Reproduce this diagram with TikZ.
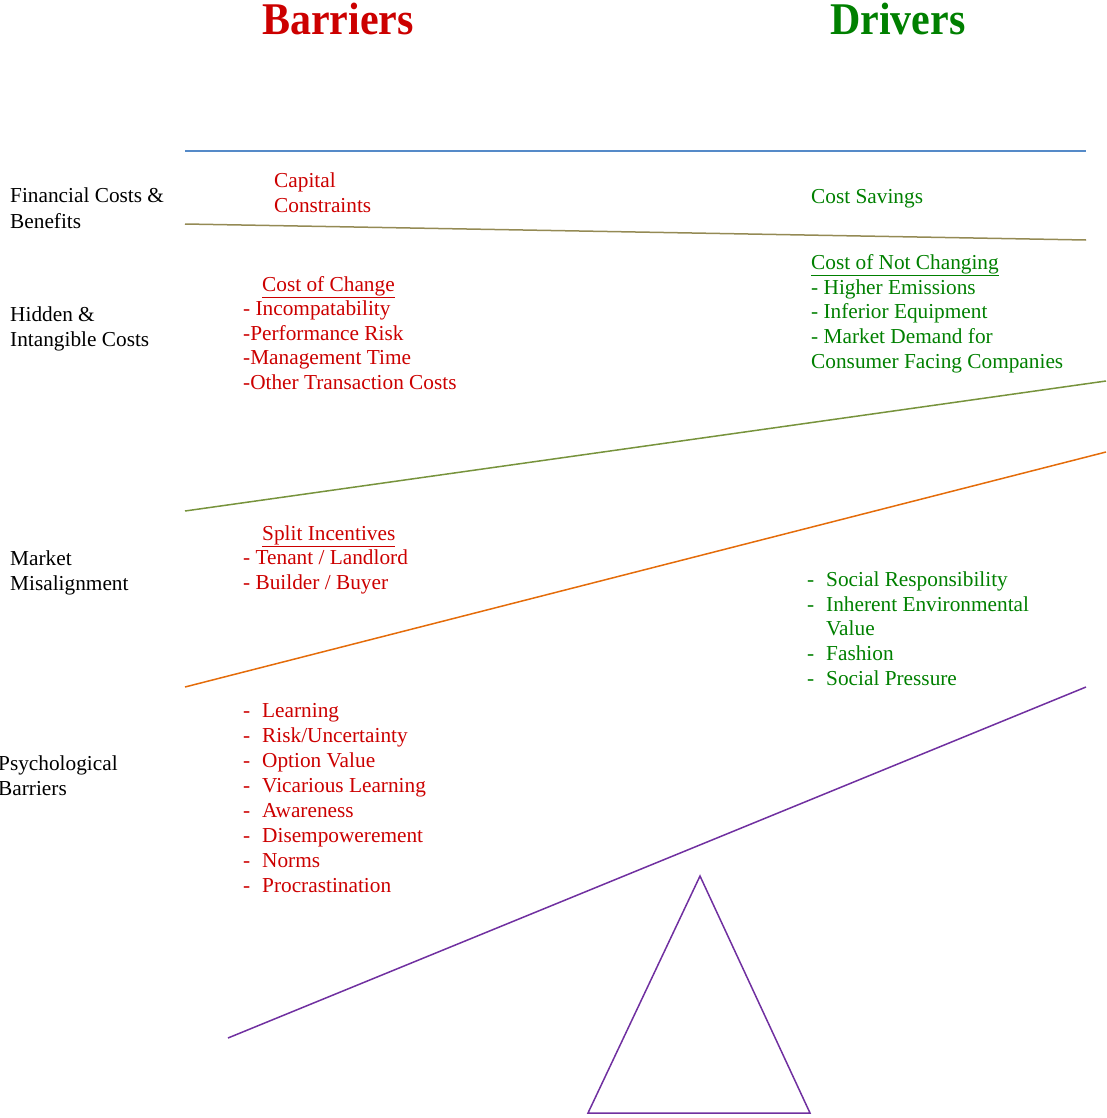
\documentclass[tikz,border=0pt]{standalone}
\usepackage{fontspec}
\setmainfont{Liberation Serif}
\definecolor{bred}{RGB}{204,0,0}
\definecolor{dgreen}{RGB}{0,128,0}
\definecolor{lblue}{RGB}{85,138,200}
\definecolor{olivec}{RGB}{148,138,84}
\definecolor{lgreen}{RGB}{119,147,60}
\definecolor{orng}{RGB}{228,108,10}
\definecolor{purp}{RGB}{112,48,160}
\begin{document}
\begin{tikzpicture}[x=1pt,y=-1pt,
  txt/.style={anchor=base west, inner sep=0pt, font=\fontsize{21.3}{25}\selectfont},
  lab/.style={txt, text=black},
  bar/.style={txt, text=bred},
  drv/.style={txt, text=dgreen},
  ttl/.style={anchor=base west, inner sep=0pt, font=\fontsize{42}{42}\selectfont\bfseries},
  band/.style={line width=1.5pt}]
\useasboundingbox (0,0) rectangle (1106,1118);

% titles
\node[ttl, text=bred] (tbar) at (262,35) {\scalebox{1}[1.08]{Barriers}};
\node[ttl, text=dgreen] (tdrv) at (830,35) {\scalebox{1}[1.08]{Drivers}};

% band lines
\coordinate (b1) at (185,151); \coordinate (b2) at (1086,151);
\coordinate (o1) at (185,224); \coordinate (o2) at (1086,240);
\coordinate (g1) at (185,511); \coordinate (g2) at (1106,381);
\coordinate (r1) at (185,687); \coordinate (r2) at (1106,452);
\coordinate (p1) at (228,1038); \coordinate (p2) at (1086,687);
\draw[band, lblue] (b1) -- (b2);
\draw[band, olivec] (o1) -- (o2);
\draw[band, lgreen] (g1) -- (g2);
\draw[band, orng] (r1) -- (r2);
\draw[band, purp] (p1) -- (p2);

% fulcrum
\coordinate (ta) at (700,876); \coordinate (tl) at (588,1113); \coordinate (tr) at (810,1113);
\draw[band, purp, line join=miter] (ta) -- (tl) -- (tr) -- cycle;

% left labels
\node[lab] (l1a) at (10,203) {Financial Costs \&};
\node[lab] (l1b) at (10,228) {Benefits};
\node[lab] (l2a) at (10,321) {Hidden \&};
\node[lab] (l2b) at (10,346) {Intangible Costs};
\node[lab] (l3a) at (10,565) {Market};
\node[lab] (l3b) at (10,590) {Misalignment};
\node[lab] (l4a) at (-2,770) {Psychological};
\node[lab] (l4b) at (-2,795) {Barriers};

% barriers
\node[bar] (cap1) at (274,187) {Capital};
\node[bar] (cap2) at (274,212) {Constraints};
\node[bar] (coc) at (262,291) {\underline{Cost of Change}};
\node[bar] (coc1) at (243,315) {- Incompatability};
\node[bar] (coc2) at (243,340) {-Performance Risk};
\node[bar] (coc3) at (243,364) {-Management Time};
\node[bar] (coc4) at (243,389) {-Other Transaction Costs};
\node[bar] (si) at (262,540) {\underline{Split Incentives}};
\node[bar] (si1) at (243,564) {- Tenant / Landlord};
\node[bar] (si2) at (243,589) {- Builder / Buyer};
\foreach \t [count=\i from 0] in {Learning,Risk/Uncertainty,Option Value,Vicarious Learning,Awareness,Disempowerement,Norms,Procrastination}{
  \node[bar] (pd\i) at (243,717+25*\i) {-};
  \node[bar] (pt\i) at (262,717+25*\i) {\t};
}

% drivers
\node[drv] (cs) at (811,204) {Cost Savings};
\node[drv] (cnc) at (811,269) {\underline{Cost of Not Changing}};
\node[drv] (cnc1) at (811,294) {- Higher Emissions};
\node[drv] (cnc2) at (811,318) {- Inferior Equipment};
\node[drv] (cnc3) at (811,343) {- Market Demand for};
\node[drv] (cnc4) at (811,368) {Consumer Facing Companies};
\node[drv] (sd0) at (807,586) {-};
\node[drv] (st0) at (826,586) {Social Responsibility};
\node[drv] (sd1) at (807,611) {-};
\node[drv] (st1) at (826,611) {Inherent Environmental};
\node[drv] (st1b) at (826,635) {Value};
\node[drv] (sd2) at (807,660) {-};
\node[drv] (st2) at (826,660) {Fashion};
\node[drv] (sd3) at (807,685) {-};
\node[drv] (st3) at (826,685) {Social Pressure};
\end{tikzpicture}
\end{document}
